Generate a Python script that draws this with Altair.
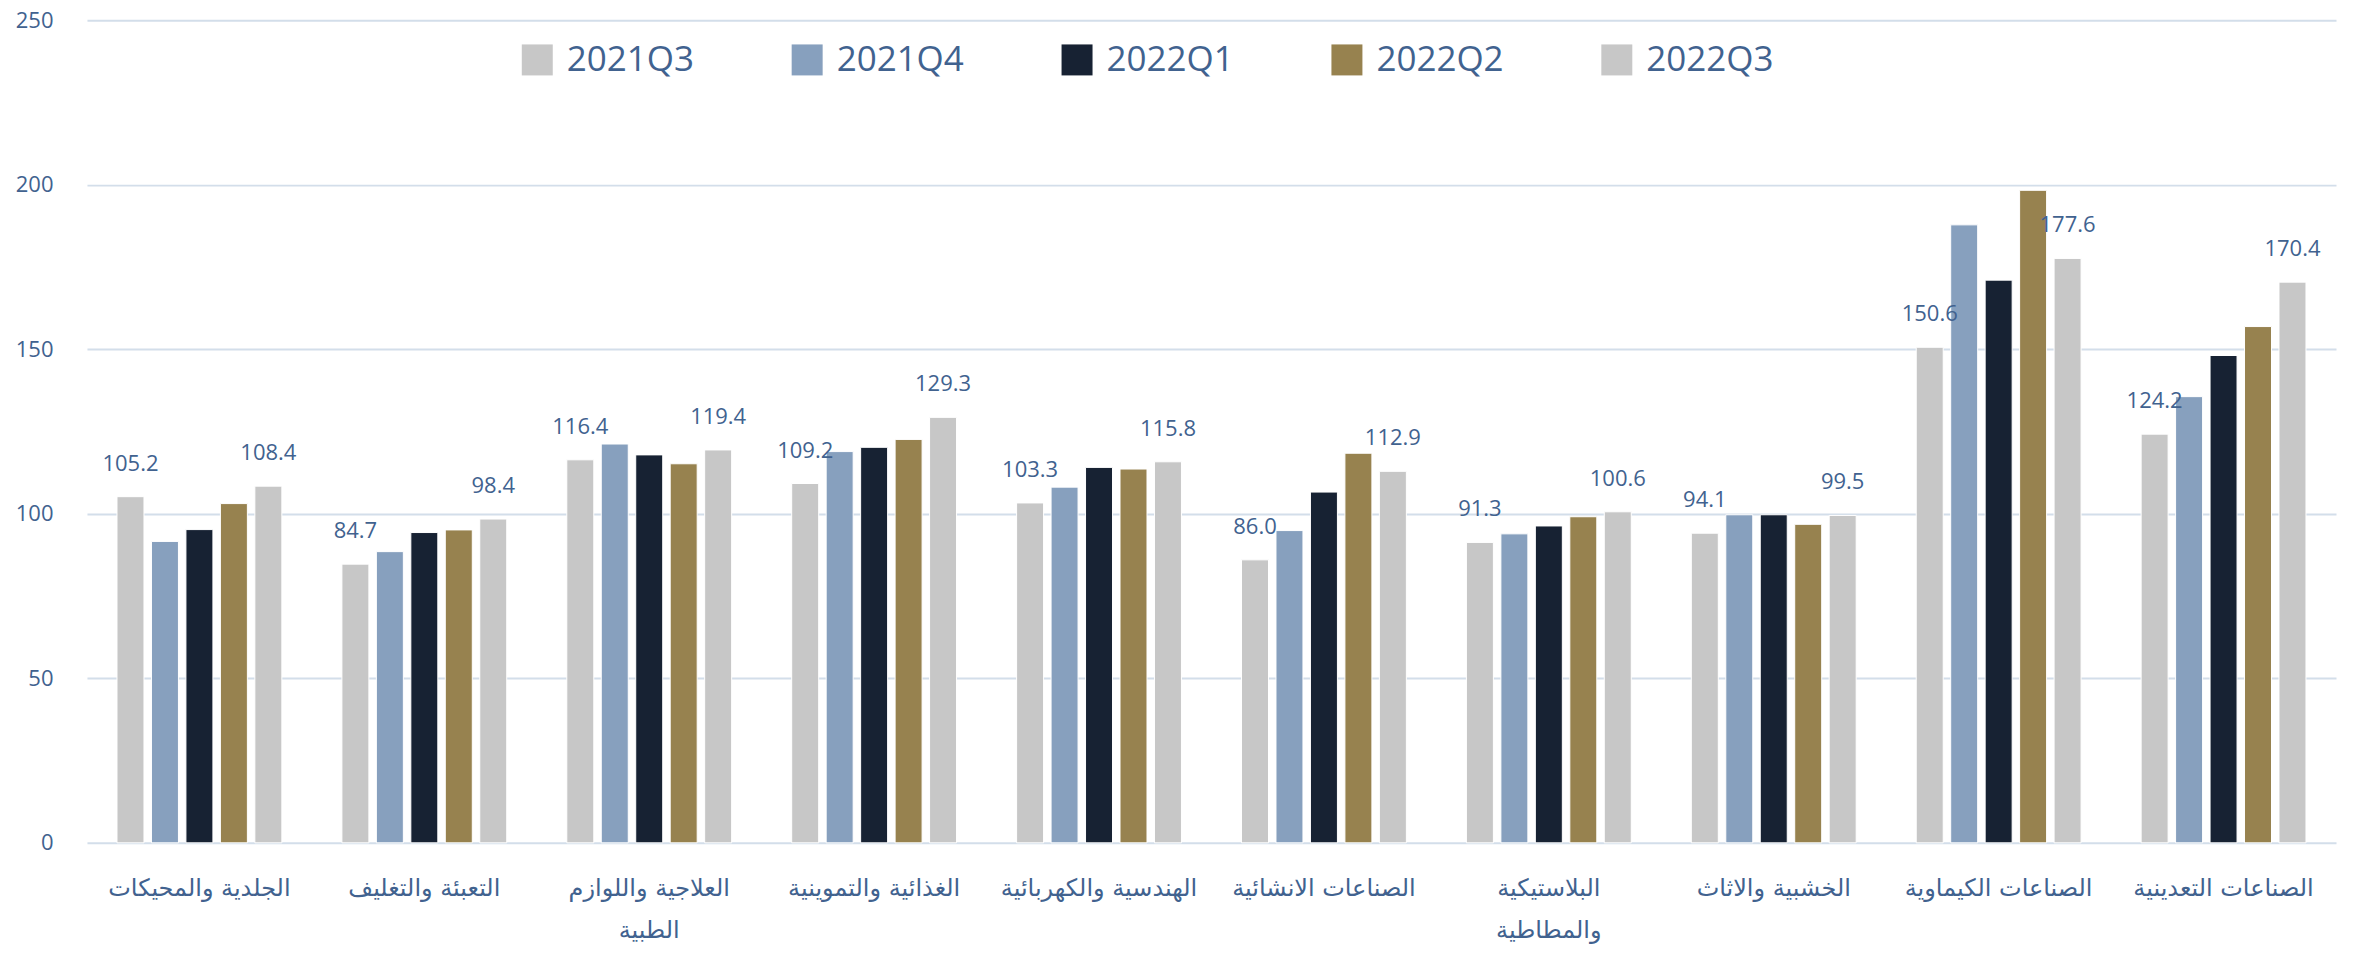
import altair as alt
import pandas as pd

categories = [
    "الجلدية والمحيكات",
    "التعبئة والتغليف",
    "العلاجية واللوازم الطبية",
    "الغذائية والتموينية",
    "الهندسية والكهربائية",
    "الصناعات الانشائية",
    "البلاستيكية والمطاطية",
    "الخشبية والاثاث",
    "الصناعات الكيماوية",
    "الصناعات التعدينية",
]
series = ["2021Q3", "2021Q4", "2022Q1", "2022Q2", "2022Q3"]
q3_2021 = [105.2, 84.7, 116.4, 109.2, 103.3, 86.0, 91.3, 94.1, 150.6, 124.2]
q4_2021 = [91.6, 88.5, 121.2, 118.9, 108.1, 94.9, 93.9, 99.7, 187.8, 135.6]
q1_2022 = [95.2, 94.3, 117.9, 120.2, 114.1, 106.6, 96.3, 99.7, 171.0, 148.1]
q2_2022 = [103.1, 95.1, 115.2, 122.6, 113.6, 118.4, 99.1, 96.8, 198.3, 156.9]
q3_2022 = [108.4, 98.4, 119.4, 129.3, 115.8, 112.9, 100.6, 99.5, 177.6, 170.4]
labelled_series = ["2021Q3", "2022Q3"]
colors = ["#C7C7C7", "#87A0BE", "#172233", "#97824F", "#C7C7C7"]
y_ticks = [0, 50, 100, 150, 200, 250]

rows = []
for s, vals in zip(series, [q3_2021, q4_2021, q1_2022, q2_2022, q3_2022]):
    for c, v in zip(categories, vals):
        rows.append({"category": c, "series": s, "value": v})
df = pd.DataFrame(rows)

text_color = "#41628F"
num_font = "Open Sans"

label_expr = (
    "datum.value == 'العلاجية واللوازم الطبية' ? ['العلاجية واللوازم', 'الطبية'] : "
    "datum.value == 'البلاستيكية والمطاطية' ? ['البلاستيكية', 'والمطاطية'] : datum.label"
)

x_enc = alt.X(
    "category:N",
    sort=categories,
    scale=alt.Scale(paddingInner=0.267, paddingOuter=0.1335),
    axis=alt.Axis(
        title=None,
        ticks=False,
        domain=False,
        labelAngle=0,
        labelFont="DejaVu Sans",
        labelFontSize=24,
        labelColor=text_color,
        labelPadding=34,
        labelLineHeight=42,
        labelLimit=400,
        labelExpr=label_expr,
    ),
)
xoff_enc = alt.XOffset(
    "series:N", sort=series, scale=alt.Scale(paddingInner=0.217, paddingOuter=0)
)
y_enc = alt.Y(
    "value:Q",
    scale=alt.Scale(domain=[0, 250], nice=False),
    axis=alt.Axis(
        title=None,
        values=y_ticks,
        ticks=False,
        domain=False,
        grid=True,
        gridColor="#D3DEEA",
        gridWidth=2,
        labelFont=num_font,
        labelFontSize=22,
        labelColor=text_color,
        labelPadding=34,
    ),
)

bars = alt.Chart(df).mark_bar(stroke="white", strokeWidth=1).encode(
    x=x_enc,
    xOffset=xoff_enc,
    y=y_enc,
    color=alt.Color(
        "series:N",
        sort=series,
        scale=alt.Scale(domain=series, range=colors),
        legend=alt.Legend(
            title=None,
            orient="none",
            legendX=433,
            legendY=22,
            direction="horizontal",
            symbolType="square",
            symbolSize=961,
            symbolStrokeWidth=0,
            labelFont=num_font,
            labelFontSize=35,
            labelColor=text_color,
            labelOffset=12,
            columnPadding=95,
        ),
    ),
)

labels = (
    alt.Chart(df)
    .transform_filter(alt.FieldOneOfPredicate(field="series", oneOf=labelled_series))
    .mark_text(
        baseline="alphabetic",
        align="center",
        dy=-26,
        font=num_font,
        fontSize=22,
        color=text_color,
    )
    .encode(
        x=alt.X("category:N", sort=categories),
        xOffset=alt.XOffset("series:N", sort=series),
        y="value:Q",
        text=alt.Text("value:Q", format=".1f"),
    )
)

chart = (
    alt.layer(bars, labels)
    .properties(
        width=2250,
        height=823,
        autosize=alt.AutoSizeParams(type="none"),
        padding={"left": 79, "top": 12, "right": 10, "bottom": 103},
    )
    .configure_view(stroke=None)
)

chart.save("out.html", embed_options={"renderer": "svg", "actions": False})
